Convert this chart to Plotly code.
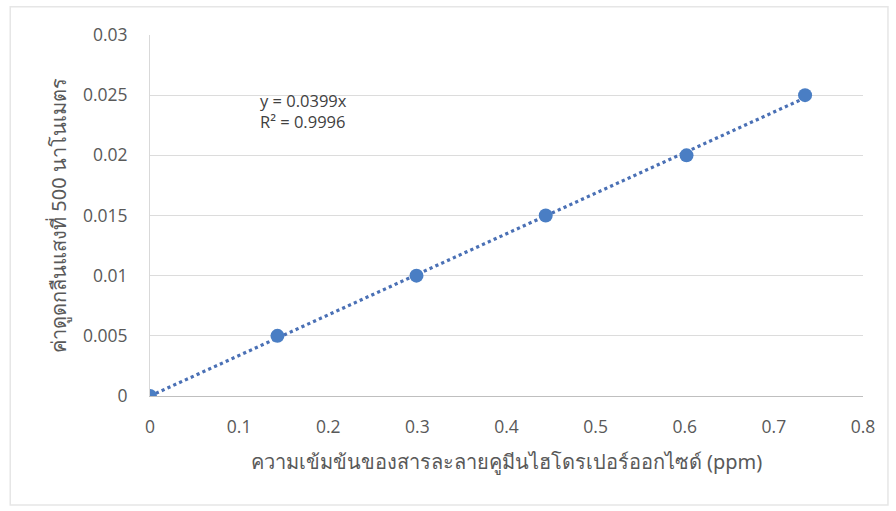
import numpy as np
import plotly.graph_objects as go

# Calibration data: concentration (ppm) vs absorbance at 500 nm
concentration = [0.0, 0.143, 0.299, 0.444, 0.602, 0.735]
absorbance = [0.0, 0.005, 0.010, 0.015, 0.020, 0.025]

x_ticks = [0, 0.1, 0.2, 0.3, 0.4, 0.5, 0.6, 0.7, 0.8]
y_ticks = [0, 0.005, 0.01, 0.015, 0.02, 0.025, 0.03]
x_tick_text = ["0", "0.1", "0.2", "0.3", "0.4", "0.5", "0.6", "0.7", "0.8"]
y_tick_text = ["0", "0.005", "0.01", "0.015", "0.02", "0.025", "0.03"]

equation_text = "y = 0.0399x<br>R² = 0.9996"

# Linear trendline forced through the origin, fitted to the points
xa = np.array(concentration)
ya = np.array(absorbance)
slope = float((xa @ ya) / (xa @ xa))
trend_x = [min(concentration), max(concentration)]
trend_y = [slope * v for v in trend_x]

tick_font = dict(family="Open Sans, Noto Sans, sans-serif", size=17.5, color="#595959")
title_font = dict(family="Noto Sans, Open Sans, sans-serif", size=20, color="#595959")

fig = go.Figure()
fig.add_trace(go.Scatter(
    x=trend_x, y=trend_y, mode="lines",
    line=dict(color="#4A70B5", width=3.2, dash="dot"),
    hoverinfo="skip", showlegend=False,
))
fig.add_trace(go.Scatter(
    x=concentration, y=absorbance, mode="markers",
    marker=dict(color="#4A7EC4", size=14, line=dict(width=0)),
    showlegend=False,
))

fig.add_annotation(
    x=0.121, y=0.0257, xref="x", yref="y",
    text=equation_text, showarrow=False,
    xanchor="left", yanchor="top", align="left",
    font=dict(family="Open Sans, sans-serif", size=16.5, color="#404040"),
)

# Light chart-area border
fig.add_shape(
    type="rect", xref="paper", yref="paper",
    x0=-0.196, x1=1.035, y0=-0.302, y1=1.078,
    line=dict(color="#E6E6E6", width=1.5), fillcolor="rgba(0,0,0,0)",
    layer="below",
)

fig.update_layout(
    width=896, height=511,
    margin=dict(l=150, r=33, t=35, b=115),
    paper_bgcolor="white", plot_bgcolor="white",
    xaxis=dict(
        range=[0, 0.8], tickvals=x_ticks, ticktext=x_tick_text,
        showgrid=False, zeroline=False,
        showline=True, linecolor="#BFBFBF", linewidth=1.2,
        ticks="", tickfont=tick_font, ticklabelstandoff=15,
        title=dict(text="ความเข้มข้นของสารละลายคูมีนไฮโดรเปอร์ออกไซด์ (ppm)",
                   font=title_font, standoff=17),
    ),
    yaxis=dict(
        range=[0, 0.03], tickvals=y_ticks, ticktext=y_tick_text,
        showgrid=True, gridcolor="#DCDCDC", gridwidth=1.2, zeroline=False,
        showline=True, linecolor="#D9D9D9", linewidth=1,
        ticks="", tickfont=tick_font, ticklabelstandoff=18,
        title=dict(text="ค่าดูดกลืนแสงที่ 500 นาโนเมตร", font=title_font, standoff=10),
    ),
)

fig.write_html("out.html")
